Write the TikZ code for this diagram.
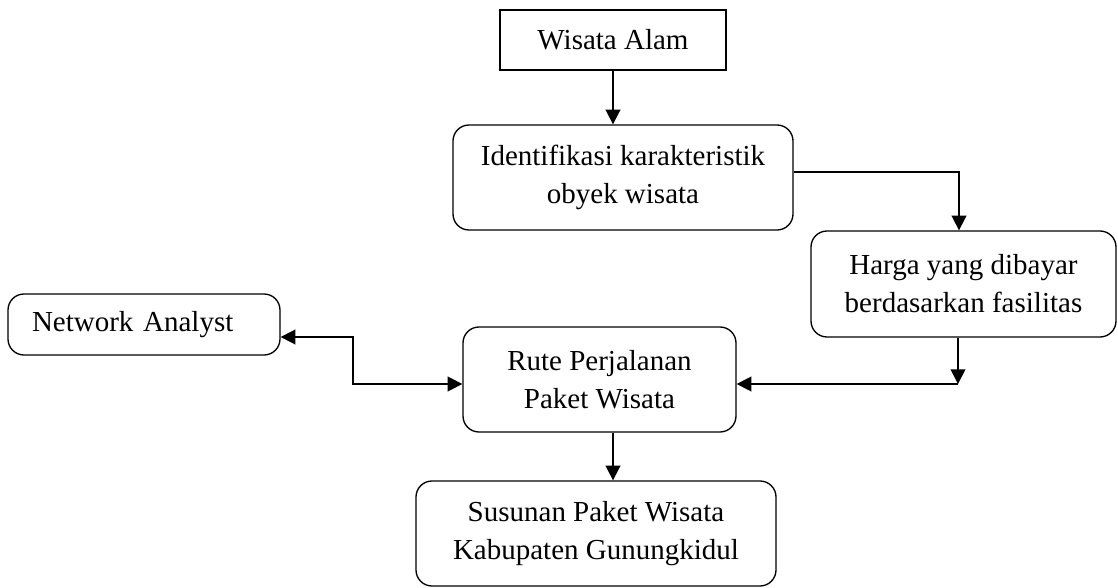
\documentclass[tikz,border=0pt]{standalone}
\usepackage{fontspec}
\setmainfont{Liberation Serif}
\usetikzlibrary{arrows.meta,calc}
\begin{document}
\begin{tikzpicture}[x=0.75pt,y=-0.75pt,
  every node/.style={font=\fontsize{21.75}{28.5}\selectfont},
  box/.style={draw,line width=1pt,align=center,inner sep=0pt},
  rbox/.style={box,rounded corners=12pt},
  conn/.style={line width=1.3pt,-{Triangle[length=11pt,width=11pt]}},
  bconn/.style={line width=1.3pt,{Triangle[length=11pt,width=11pt]}-{Triangle[length=11pt,width=11pt]}},
  plain/.style={line width=1.3pt}]
\useasboundingbox (0,0) rectangle (1118,588);
\node[box,minimum width=226*0.75pt,minimum height=60*0.75pt] (wa) at (613,40) {Wisata Alam};
\node[rbox,minimum width=340*0.75pt,minimum height=105*0.75pt] (ik) at (623,177.5) {Identifikasi karakteristik\\obyek wisata};
\node[rbox,minimum width=305*0.75pt,minimum height=106*0.75pt] (hg) at (963.5,284) {Harga yang dibayar\\berdasarkan fasilitas};
\node[rbox,minimum height=61*0.75pt,text width=224*0.75pt,inner xsep=24*0.75pt,align=left] (na) at (144,324.5) {Network Analyst};
\node[rbox,minimum width=273*0.75pt,minimum height=105*0.75pt] (rp) at (599.5,379.5) {Rute Perjalanan\\Paket Wisata};
\node[rbox,minimum width=360*0.75pt,minimum height=105*0.75pt] (sp) at (596,533.5) {Susunan Paket Wisata\\Kabupaten Gunungkidul};
\coordinate (c1) at (959,172);
\coordinate (c2) at (958,384);
\coordinate (c3) at (353,337);
\coordinate (c4) at (353,384);
\coordinate (c5) at (613,0);
\draw[conn] (wa.south) -- (wa.south |- ik.north);
\draw[conn] (ik.east |- c1) -- (c1) -- (c1 |- hg.north);
\draw[conn] (c2 |- hg.south) -- (c2);
\draw[conn] (c2) -- (c2 -| rp.east);
\draw[bconn] (c3 -| na.east) -- (c3) -- (c4) -- (c4 -| rp.west);
\draw[conn] (c5 |- rp.south) -- (c5 |- sp.north);
\end{tikzpicture}
\end{document}
